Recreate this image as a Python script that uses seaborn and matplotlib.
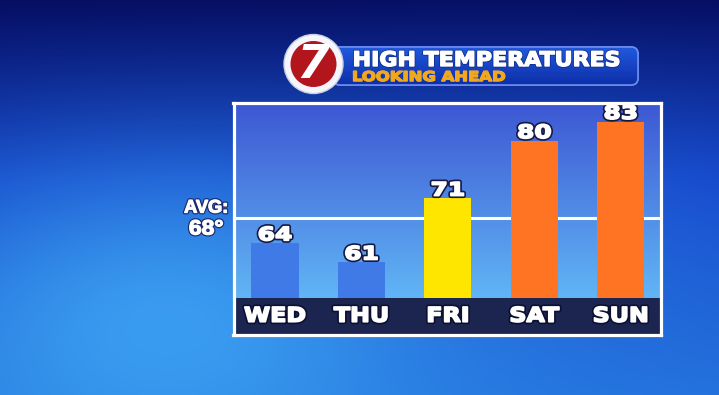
import numpy as np
import matplotlib
matplotlib.use("Agg")
import matplotlib.pyplot as plt
import seaborn as sns
from matplotlib import patheffects as pe
from matplotlib.transforms import Affine2D
from matplotlib.patches import FancyBboxPatch, Circle

# ---------------- data ----------------
days = ["WED", "THU", "FRI", "SAT", "SUN"]
highs = [64, 61, 71, 80, 83]
bar_colors = ["#3f7ae6", "#3f7ae6", "#ffe600", "#ff7422", "#ff7422"]
avg_high = 68
title = "HIGH TEMPERATURES"
subtitle = "LOOKING AHEAD"
avg_label = "AVG:"
avg_value_label = f"{avg_high}°"

# value scale of the panel (strip top = floor value)
y_floor = 55.4
y_limits = (49.7, 86.0)
x_limits = (-0.48, 4.46)

sns.set_theme(style="white")
plt.rcParams['font.family'] = ['DejaVu Sans']


class Stretch(pe.AbstractPathEffect):
    """Horizontally stretch a text path about its centre."""
    def __init__(self, sx, inner):
        super().__init__()
        self.sx = sx
        self.inner = inner

    def draw_path(self, renderer, gc, tpath, affine, rgbFace=None):
        ext = tpath.get_extents()
        cx = (ext.x0 + ext.x1) / 2.0
        aff = Affine2D().translate(-cx, 0).scale(self.sx, 1).translate(cx, 0) + affine
        for eff in self.inner:
            eff.draw_path(renderer, gc, tpath, aff, rgbFace)


def outlined(sx, lw=3.6, fg="#141a44", thick=1.2, col="white"):
    return [Stretch(sx, [pe.Stroke(linewidth=lw, foreground=fg),
                         pe.Stroke(linewidth=thick, foreground=col),
                         pe.Normal()])]


W, H = 719, 395
fig = plt.figure(figsize=(W / 100, H / 100), dpi=100)

# ---------------- background ----------------
bg = fig.add_axes([0, 0, 1, 1], zorder=0)
bg.set_xlim(0, W)
bg.set_ylim(H, 0)
bg.axis('off')
yy, xx = np.mgrid[0:H, 0:W].astype(float)
c0 = np.array([0.02, 0.05, 0.38])
c1 = np.array([0.07, 0.25, 0.78])
c2 = np.array([0.13, 0.44, 0.86])
f = yy / H
t1 = np.clip(f / 0.45, 0, 1)[..., None]
t2 = np.clip((f - 0.45) / 0.55, 0, 1)[..., None]
img = c0 * (1 - t1) + c1 * t1
img = img * (1 - t2) + c2 * t2
glow = np.exp(-(((xx - 170) / 270) ** 2 + ((yy - 320) / 160) ** 2))[..., None]
img = img * (1 - 0.78 * glow) + np.array([0.26, 0.68, 0.97]) * 0.78 * glow
glow2 = np.exp(-(((xx - 560) / 260) ** 2 + ((yy - 250) / 160) ** 2))[..., None]
img = img * (1 - 0.3 * glow2) + np.array([0.20, 0.52, 0.92]) * 0.3 * glow2
bg.imshow(np.clip(img, 0, 1), extent=(0, W, H, 0), aspect='auto', interpolation='bilinear')

# title banner
banner = FancyBboxPatch((333, 47), 305, 38, boxstyle="round,pad=0,rounding_size=7",
                        facecolor="#1444c4", edgecolor="#6a8cf0", lw=1.2, zorder=2)
bg.add_patch(banner)
bgrad = np.linspace(0, 1, 50)[:, None, None] * np.ones((50, 10, 1))
bcol = np.array([0.13, 0.35, 0.87]) * (1 - bgrad) + np.array([0.05, 0.18, 0.66]) * bgrad
bim = bg.imshow(bcol, extent=(333, 638, 85, 47), aspect='auto', zorder=2.1)
bim.set_clip_path(banner)
bg.add_patch(FancyBboxPatch((333, 47), 305, 38, boxstyle="round,pad=0,rounding_size=7",
                            facecolor="none", edgecolor="#6a8cf0", lw=1.2, zorder=2.2))
bg.text(486.5, 66, title, ha='center', va='baseline', color='white',
        fontsize=14.6, fontweight='bold', zorder=3,
        path_effects=outlined(1.09, lw=2.0, fg="#0c2a8a", thick=1.0))
bg.text(429, 81, subtitle, ha='center', va='baseline', color='#f2a81c',
        fontsize=9.7, fontweight='bold', zorder=3,
        path_effects=outlined(1.22, lw=0.8, fg="#f2a81c", thick=0.8, col="#f2a81c"))

# logo
bg.add_patch(Circle((313.5, 64), 29.5, facecolor="#f4f6fb", edgecolor="#c8d0e0", lw=1, zorder=4))
bg.add_patch(Circle((313.5, 64), 23, facecolor="#b3151c", edgecolor="none", zorder=4.1))
bg.text(313, 66, "7", ha='center', va='center', color='white', fontsize=34,
        fontweight='bold', style='italic', zorder=4.2)

# ---------------- chart panel ----------------
ax = fig.add_axes([233.5 / W, (H - 334.5) / H, 427 / W, 232 / H], zorder=2)
pg = np.linspace(0, 1, 100)[:, None, None] * np.ones((100, 10, 1))
pcol = np.array([0.24, 0.34, 0.83]) * (1 - pg) + np.array([0.38, 0.71, 0.96]) * pg
ax.imshow(pcol, extent=(x_limits[0], x_limits[1], y_floor, y_limits[1]),
          aspect='auto', zorder=0, interpolation='bilinear')

sns.barplot(x=days, y=highs, hue=days, palette=bar_colors, legend=False,
            saturation=1, width=0.544, ax=ax, zorder=2, linewidth=0)

ax.axhline(avg_high, color='white', lw=2.2, zorder=1.5)
ax.axhspan(y_limits[0], y_floor, color="#1b2550", zorder=3, lw=0)

for i, v in enumerate(highs):
    ax.annotate(str(v), xy=(i, v), xytext=(0, 2.0), textcoords='offset points',
                ha='center', va='baseline', color='white', fontsize=13.4,
                fontweight='bold', zorder=5, path_effects=outlined(1.34))

for i, d in enumerate(days):
    ax.text(i, 0.055, d, transform=ax.get_xaxis_transform(), ha='center',
            va='baseline', color='white', fontsize=14.6, fontweight='bold',
            zorder=5, path_effects=outlined(1.17, fg="#0c1030"))

ax.annotate(avg_label, xy=(-0.064, avg_high), xycoords=('axes fraction', 'data'),
            xytext=(0, 3.6), textcoords='offset points', ha='center', va='baseline',
            color='white', fontsize=13.1, fontweight='bold', family='Liberation Sans',
            annotation_clip=False, path_effects=outlined(1.0, lw=2.6, fg="#1a2a70", thick=0.9))
ax.annotate(avg_value_label, xy=(-0.064, avg_high), xycoords=('axes fraction', 'data'),
            xytext=(0, -12.2), textcoords='offset points', ha='center', va='baseline',
            color='white', fontsize=15, fontweight='bold', family='Liberation Sans',
            annotation_clip=False, path_effects=outlined(1.1, lw=2.6, fg="#1a2a70", thick=0.9))

ax.set_xlim(*x_limits)
ax.set_ylim(*y_limits)
ax.set_xticks([])
ax.set_yticks([])
ax.set_xlabel("")
ax.set_ylabel("")
for sp in ax.spines.values():
    sp.set_visible(True)
    sp.set_color('white')
    sp.set_linewidth(2.3)
    sp.set_zorder(6)

fig.savefig("out.png", dpi=100)
